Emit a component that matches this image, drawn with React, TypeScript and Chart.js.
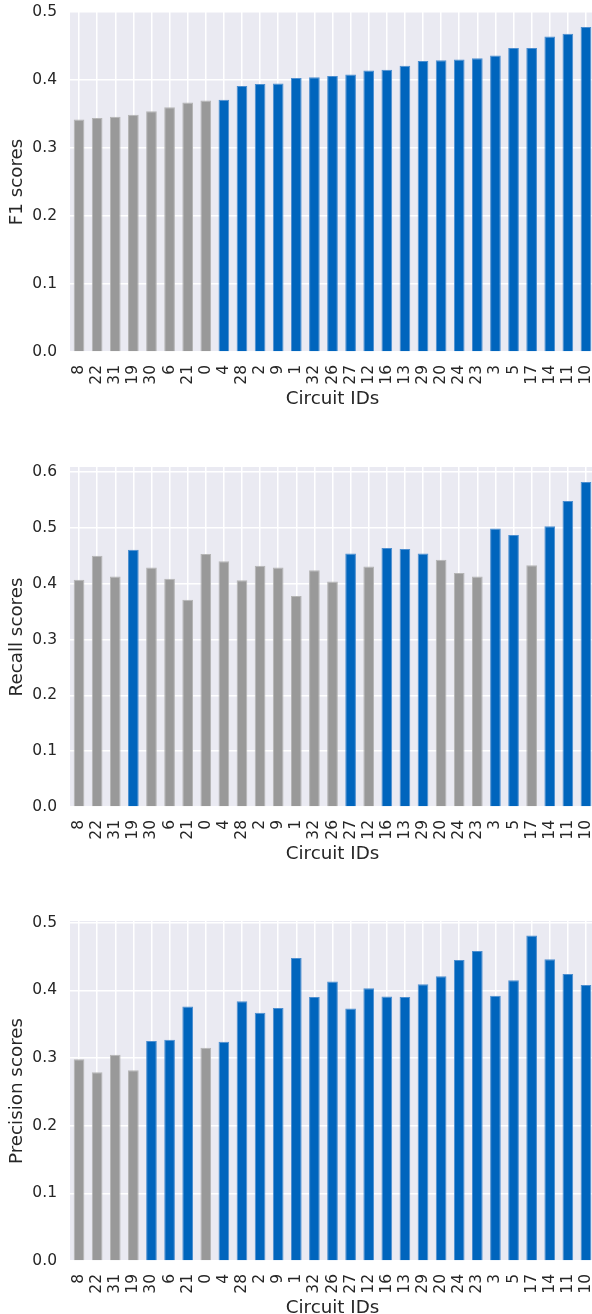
import React, { useEffect, useRef } from "react";
import { Chart, registerables } from "chart.js";

Chart.register(...registerables);

// ---- data ----
const circuitIds = [
  "8", "22", "31", "19", "30", "6", "21", "0", "4", "28", "2", "9", "1", "32", "26",
  "27", "12", "16", "13", "29", "20", "24", "23", "3", "5", "17", "14", "11", "10",
];

const f1Scores = [
  0.342, 0.344, 0.346, 0.349, 0.354, 0.360, 0.367, 0.370, 0.371, 0.391, 0.394, 0.395, 0.403, 0.404, 0.406,
  0.408, 0.414, 0.415, 0.421, 0.428, 0.429, 0.430, 0.432, 0.436, 0.447, 0.447, 0.464, 0.468, 0.478,
];

const recallScores = [
  0.407, 0.450, 0.413, 0.461, 0.429, 0.409, 0.371, 0.453, 0.440, 0.406, 0.432, 0.429, 0.378, 0.424, 0.404,
  0.454, 0.431, 0.464, 0.462, 0.454, 0.443, 0.419, 0.413, 0.499, 0.487, 0.433, 0.503, 0.548, 0.582,
];

const precisionScores = [
  0.298, 0.279, 0.305, 0.282, 0.325, 0.327, 0.376, 0.315, 0.324, 0.384, 0.367, 0.374, 0.448, 0.390, 0.413,
  0.373, 0.403, 0.391, 0.390, 0.409, 0.421, 0.445, 0.458, 0.392, 0.415, 0.481, 0.446, 0.424, 0.408,
];

const f1Grey = ["8", "22", "31", "19", "30", "6", "21", "0"];
const recallBlue = ["19", "27", "16", "13", "29", "3", "5", "14", "11", "10"];
const precisionGrey = ["8", "22", "31", "19", "0"];

const yMaxF1 = 0.5;
const yMaxRecall = 0.609;
const yMaxPrecision = 0.5025;

// ---- styles ----
const BLUE = "#0065BD";
const BLUE_EDGE = "#4d8fd0";
const GREY = "#999999";
const GREY_EDGE = "#b5b5b5";
const TEXT = "#262626";
const FONT = "'DejaVu Sans', sans-serif";

const bgPlugin = {
  id: "axesBg",
  beforeDraw(chart: any) {
    const { ctx, chartArea: a } = chart;
    ctx.save();
    ctx.fillStyle = "#EAEAF2";
    ctx.fillRect(a.left, a.top, a.right - a.left, a.bottom - a.top);
    ctx.restore();
  },
};

function Panel(props: { values: number[]; isBlue: (id: string) => boolean; yMax: number; yLabel: string; top: number }) {
  const ref = useRef<HTMLCanvasElement>(null);
  useEffect(() => {
    const canvas = ref.current;
    if (!canvas) return;
    const colors = circuitIds.map((id) => (props.isBlue(id) ? BLUE : GREY));
    const edges = circuitIds.map((id) => (props.isBlue(id) ? BLUE_EDGE : GREY_EDGE));
    const chart = new Chart(canvas, {
      type: "bar",
      data: {
        labels: circuitIds,
        datasets: [
          {
            data: props.values,
            backgroundColor: colors,
            borderColor: edges,
            borderWidth: 1,
            barPercentage: 0.59,
            categoryPercentage: 1,
          },
        ],
      },
      options: {
        animation: false,
        responsive: false,
        devicePixelRatio: 1,
        layout: { padding: { top: 12, right: 5, left: 0, bottom: 0 } },
        plugins: { legend: { display: false }, tooltip: { enabled: false } },
        scales: {
          x: {
            type: "category",
            offset: true,
            grid: { color: "#ffffff", lineWidth: 1.5, offset: false, drawTicks: false },
            border: { display: false },
            ticks: {
              color: TEXT,
              font: { family: FONT, size: 15.5 },
              minRotation: 90,
              maxRotation: 90,
              autoSkip: false,
              padding: 13,
            },
            title: {
              display: true,
              text: "Circuit IDs",
              color: TEXT,
              font: { family: FONT, size: 18.3 },
              padding: { top: 0, bottom: 45 },
            },
            afterFit: (s: any) => {
              s.height = 103;
              s.paddingLeft = 0;
              s.paddingRight = 0;
            },
          },
          y: {
            min: 0,
            max: props.yMax,
            grid: { color: "#ffffff", lineWidth: 1.5, drawTicks: false },
            border: { display: false },
            ticks: {
              stepSize: 0.1,
              includeBounds: false,
              color: TEXT,
              font: { family: FONT, size: 15.5 },
              padding: 13,
              callback: (v: any) => Number(v).toFixed(1),
            },
            title: {
              display: true,
              text: props.yLabel,
              color: TEXT,
              font: { family: FONT, size: 18.3 },
              padding: { top: 6, bottom: 0 },
            },
            afterFit: (s: any) => {
              s.width = 70;
              s.paddingTop = 0;
              s.paddingBottom = 0;
            },
          },
        },
      },
      plugins: [bgPlugin],
    } as any);
    return () => chart.destroy();
  }, []);
  return (
    <canvas
      ref={ref}
      width={600}
      height={455}
      style={{ position: "absolute", left: 0, top: props.top, width: 600, height: 455, display: "block" }}
    />
  );
}

export default function App() {
  return (
    <div
      style={{
        position: "fixed",
        left: 0,
        top: 0,
        width: 592,
        height: 1314,
        overflow: "hidden",
        background: "#ffffff",
      }}
    >
      <Panel values={f1Scores} isBlue={(id) => !f1Grey.includes(id)} yMax={yMaxF1} yLabel="F1 scores" top={0} />
      <Panel values={recallScores} isBlue={(id) => recallBlue.includes(id)} yMax={yMaxRecall} yLabel="Recall scores" top={455} />
      <Panel
        values={precisionScores}
        isBlue={(id) => !precisionGrey.includes(id)}
        yMax={yMaxPrecision}
        yLabel="Precision scores"
        top={909}
      />
    </div>
  );
}
